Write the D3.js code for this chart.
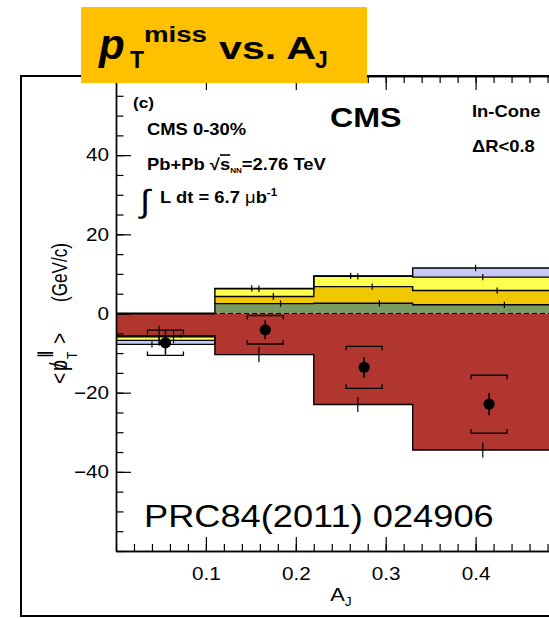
<!DOCTYPE html>
<html>
<head>
<meta charset="utf-8">
<script src="https://cdn.jsdelivr.net/npm/d3@7"></script>
<style>
  body { margin: 0; background: #fff; }
  svg { display: block; }
</style>
</head>
<body>
<script>
// A_J bins of the in-cone missing-pT decomposition
const binEdges = [0, 0.11, 0.22, 0.33, 0.5];

// Track-pT classes, stacked in this order (GeV/c)
const layerKeys = ["gt8", "p4to8", "p2to4", "p1to2", "p05to1"];
const layerColors = ["#b1362f", "#7a9a64", "#f1c800", "#ffff4f", "#c8c8f6"];

// <pT||> contribution of each class per A_J bin (GeV/c)
const valsGt8   = [-5.6, -10.4, -23.0, -34.5];
const vals4to8  = [-0.1,  2.5,   2.6,   2.2];
const vals2to4  = [-0.2,  1.8,   4.2,   3.6];
const vals1to2  = [-0.9,  1.95,  2.6,   3.4];
const vals05to1 = [-1.0,  0.1,   0.1,   2.3];

// statistical uncertainty of each class per bin
const errGt8   = [2.5, 1.9, 1.9, 1.9];
const err4to8  = [0.5, 0.8, 0.8, 0.8];
const err2to4  = [1.6, 0.9, 0.8, 0.8];
const err1to2  = [1.2, 0.8, 0.8, 0.8];
const err05to1 = [0.8, 0.8, 0.8, 0.8];

// A_J shift of each class's error bar from the bin's mean A_J
const classShift = [-0.007, 0.017, 0.009, -0.007, -0.015];

// total <pT||> for all tracks, with statistical and systematic errors
const totalAJ   = [0.055, 0.166, 0.276, 0.415];
const totalVal  = [-7.4, -4.1, -13.6, -22.9];
const totalStat = [3.0, 2.4, 2.6, 2.8];
const totalSys  = [3.2, 3.6, 5.3, 7.3];

const xTickVals = [0.1, 0.2, 0.3, 0.4];
const yTickVals = [-40, -20, 0, 20, 40];

const W = 549, H = 619;
const FONT = "'Liberation Sans', Arial, Helvetica, sans-serif";
const SX = 1.15; // horizontal stretch of the figure's lettering

const svg = d3.select("body").append("svg")
  .attr("width", W).attr("height", H)
  .attr("viewBox", `0 0 ${W} ${H}`);

const x = d3.scaleLinear().domain([0, 0.5]).range([116, 565.5]);
const y = d3.scaleLinear().domain([-60, 60]).range([551, 76]);

// outer frame of the panel
svg.append("rect")
  .attr("x", 21).attr("y", 76).attr("width", 560).attr("height", 540)
  .attr("fill", "none").attr("stroke", "#000").attr("stroke-width", 2);

svg.append("defs").append("clipPath").attr("id", "plotClip")
  .append("rect")
  .attr("x", x(0)).attr("y", y(60))
  .attr("width", x(0.5) - x(0)).attr("height", y(-60) - y(60));

const plot = svg.append("g").attr("clip-path", "url(#plotClip)");

// ---- stacked histogram ----
const layerVals = [valsGt8, vals4to8, vals2to4, vals1to2, vals05to1];
const layerErrs = [errGt8, err4to8, err2to4, err1to2, err05to1];
const rows = binEdges.slice(0, -1).map((e, i) => {
  const r = { bin: i };
  layerKeys.forEach((k, j) => { r[k] = layerVals[j][i]; });
  return r;
});
const series = d3.stack().keys(layerKeys).offset(d3.stackOffsetDiverging)(rows);
const nBins = rows.length;

const area = d3.area()
  .curve(d3.curveStepAfter)
  .x(d => x(d.a))
  .y0(d => y(d.lo))
  .y1(d => y(d.hi));

series.forEach((s, j) => {
  const pts = s.map((d, i) => ({ a: binEdges[i], lo: d[0], hi: d[1] }));
  pts.push({ a: binEdges[nBins], lo: s[nBins - 1][0], hi: s[nBins - 1][1] });
  plot.append("path").attr("d", area(pts)).attr("fill", layerColors[j]).attr("stroke", "none");
});

// outlines: outer edge of each class, in runs of equal sign
function outerOf(s, j, i) { return layerVals[j][i] >= 0 ? s[i][1] : s[i][0]; }
function innerOf(s, j, i) { return layerVals[j][i] >= 0 ? s[i][0] : s[i][1]; }
series.forEach((s, j) => {
  let i = 0;
  while (i < nBins) {
    const sign = layerVals[j][i] >= 0;
    let k = i;
    while (k + 1 < nBins && (layerVals[j][k + 1] >= 0) === sign) k++;
    const p = d3.path();
    p.moveTo(x(binEdges[i]), y(innerOf(s, j, i)));
    p.lineTo(x(binEdges[i]), y(outerOf(s, j, i)));
    for (let b = i; b <= k; b++) {
      p.lineTo(x(binEdges[b + 1]), y(outerOf(s, j, b)));
      if (b < k) p.lineTo(x(binEdges[b + 1]), y(outerOf(s, j, b + 1)));
    }
    p.lineTo(x(binEdges[k + 1]), y(innerOf(s, j, k)));
    plot.append("path").attr("d", p.toString())
      .attr("fill", "none").attr("stroke", "#000").attr("stroke-width", 1.4);
    i = k + 1;
  }
});

// dashed zero line, solid where the bin has no positive contribution
plot.append("line")
  .attr("x1", x(0)).attr("x2", x(0.5)).attr("y1", y(0)).attr("y2", y(0))
  .attr("stroke", "#000").attr("stroke-width", 1.2).attr("stroke-dasharray", "5,3");
rows.forEach((r, i) => {
  const posTop = d3.max(series, s => s[i][1]);
  if (posTop <= 0) {
    plot.append("line")
      .attr("x1", x(binEdges[i])).attr("x2", x(binEdges[i + 1]))
      .attr("y1", y(0)).attr("y2", y(0))
      .attr("stroke", "#000").attr("stroke-width", 1.8);
  }
});

// error bars of the individual classes
series.forEach((s, j) => {
  for (let i = 0; i < nBins; i++) {
    const v = outerOf(s, j, i);
    const e = layerErrs[j][i];
    const xx = x(totalAJ[i] + classShift[j]);
    plot.append("line")
      .attr("x1", xx).attr("x2", xx)
      .attr("y1", y(v + e)).attr("y2", y(v - e))
      .attr("stroke", "#000").attr("stroke-width", 1.2);
  }
});

// total: systematic brackets, statistical bars, markers
const bHalf = 18, bTick = 4;
totalAJ.forEach((a, i) => {
  const cx = x(a), cy = y(totalVal[i]);
  const yt = y(totalVal[i] + totalSys[i]), yb = y(totalVal[i] - totalSys[i]);
  plot.append("path")
    .attr("d", `M${cx - bHalf},${yt + bTick}V${yt}H${cx + bHalf}V${yt + bTick}` +
               `M${cx - bHalf},${yb - bTick}V${yb}H${cx + bHalf}V${yb - bTick}`)
    .attr("fill", "none").attr("stroke", "#000").attr("stroke-width", 1.3);
  plot.append("line")
    .attr("x1", cx).attr("x2", cx)
    .attr("y1", y(totalVal[i] + totalStat[i])).attr("y2", y(totalVal[i] - totalStat[i]))
    .attr("stroke", "#000").attr("stroke-width", 1.5);
  plot.append("circle").attr("cx", cx).attr("cy", cy).attr("r", 5.6).attr("fill", "#000");
});

// ---- axes ----
function styleAxis(g) {
  g.select(".domain").attr("stroke", "#000").attr("stroke-width", 1.4);
  g.selectAll(".tick line").attr("stroke", "#000").attr("stroke-width", 1.2);
}
const xMinor = d3.range(0, 0.5001, 0.02);
const yMinor = d3.range(-60, 60.001, 5);

svg.append("g").attr("transform", `translate(${x(0)},0)`)
  .call(d3.axisLeft(y).tickValues(yMinor).tickSize(-7.5).tickSizeOuter(0).tickFormat(""))
  .call(styleAxis);
const yAx = svg.append("g").attr("transform", `translate(${x(0)},0)`)
  .call(d3.axisLeft(y).tickValues(yTickVals).tickSize(-15).tickSizeOuter(0).tickPadding(6).tickFormat(d3.format("d")))
  .call(styleAxis);
yAx.selectAll(".tick text")
  .attr("font-family", FONT).attr("font-size", 18).attr("fill", "#000")
  .attr("transform", `scale(${SX},1)`);

svg.append("g").attr("transform", `translate(0,${y(-60)})`)
  .call(d3.axisBottom(x).tickValues(xMinor).tickSize(-7).tickSizeOuter(0).tickFormat(""))
  .call(styleAxis);
const xAx = svg.append("g").attr("transform", `translate(0,${y(-60)})`)
  .call(d3.axisBottom(x).tickValues(xTickVals).tickSize(-14).tickSizeOuter(0).tickPadding(16).tickFormat(d3.format(".1f")))
  .call(styleAxis);
xAx.selectAll(".tick text")
  .attr("font-family", FONT).attr("font-size", 18).attr("fill", "#000")
  .attr("transform", `scale(${SX},1)`);

svg.append("g").attr("transform", `translate(0,${y(60)})`)
  .call(d3.axisTop(x).tickValues(xMinor).tickSize(-7).tickSizeOuter(0).tickFormat(""))
  .call(styleAxis);
svg.append("g").attr("transform", `translate(0,${y(60)})`)
  .call(d3.axisTop(x).tickValues(xTickVals).tickSize(-14).tickSizeOuter(0).tickFormat(""))
  .call(styleAxis);

// ---- text ----
function label(px, py, size, weight) {
  return svg.append("text")
    .attr("transform", `translate(${px},${py}) scale(${SX},1)`)
    .attr("font-family", FONT).attr("font-size", size)
    .attr("font-weight", weight || "normal").attr("fill", "#000");
}
function vlabel(px, py, size, str) {
  return svg.append("text")
    .attr("transform", `translate(${px},${py}) scale(${SX},1) rotate(-90)`)
    .attr("font-family", FONT).attr("font-size", size).attr("fill", "#000")
    .text(str);
}

// axis titles
const xt = label(341, 601, 19).attr("text-anchor", "middle");
xt.append("tspan").text("A");
xt.append("tspan").attr("font-size", 12).attr("dy", 5).text("J");

// vertical title: <p-slash_T^parallel> (GeV/c)
vlabel(67, 384, 19, "<");
vlabel(67, 371, 20, "p");
vlabel(67, 368, 20, "/");
vlabel(77, 359, 12, "T");
vlabel(50, 358, 14, "\u2225").attr("font-family", "'DejaVu Sans', sans-serif").attr("font-weight", "bold");
vlabel(67, 344, 19, ">");
vlabel(67, 302, 19, "(GeV/c)").attr("textLength", 59).attr("lengthAdjust", "spacingAndGlyphs");

// panel annotations
label(133, 108, 15, "bold").text("(c)");
label(147, 135, 16, "bold").text("CMS 0-30%");

const pb = label(147, 170, 16, "bold");
pb.append("tspan").text("Pb+Pb \u221A");
pb.append("tspan").attr("text-decoration", "overline").text("s");
pb.append("tspan").attr("font-size", 7).attr("dy", 3).text("NN");
pb.append("tspan").attr("dy", -3).text("=2.76 TeV");

label(140, 212, 32).text("\u222B");
const lum = label(160, 203, 16, "bold");
lum.append("tspan").text("L dt = 6.7 ");
lum.append("tspan").attr("font-weight", "normal").text("\u03BC");
lum.append("tspan").text("b");
lum.append("tspan").attr("font-size", 10).attr("dy", -7).text("-1");

label(330, 127, 28, "bold").text("CMS");
label(472, 117, 16, "bold").text("In-Cone");
label(472, 152, 16, "bold").text("\u0394R<0.8");

label(144, 527, 31.5).text("PRC84(2011) 024906");

// ---- title banner ----
svg.append("rect").attr("x", 81).attr("y", 7).attr("width", 286).attr("height", 76).attr("fill", "#ffc000");
const tg = svg.append("g").attr("font-family", FONT).attr("font-weight", "bold").attr("fill", "#000");
tg.append("text").attr("x", 99).attr("y", 59).attr("font-size", 42).attr("font-style", "italic").text("p");
tg.append("text").attr("x", 130).attr("y", 68).attr("font-size", 23).text("T");
tg.append("text").attr("x", 144).attr("y", 42).attr("font-size", 22)
  .attr("textLength", 63).attr("lengthAdjust", "spacingAndGlyphs").text("miss");
tg.append("text").attr("x", 219).attr("y", 59).attr("font-size", 32)
  .attr("textLength", 97).attr("lengthAdjust", "spacingAndGlyphs").text("vs. A");
tg.append("text").attr("x", 315).attr("y", 68).attr("font-size", 23).text("J");
</script>
</body>
</html>
